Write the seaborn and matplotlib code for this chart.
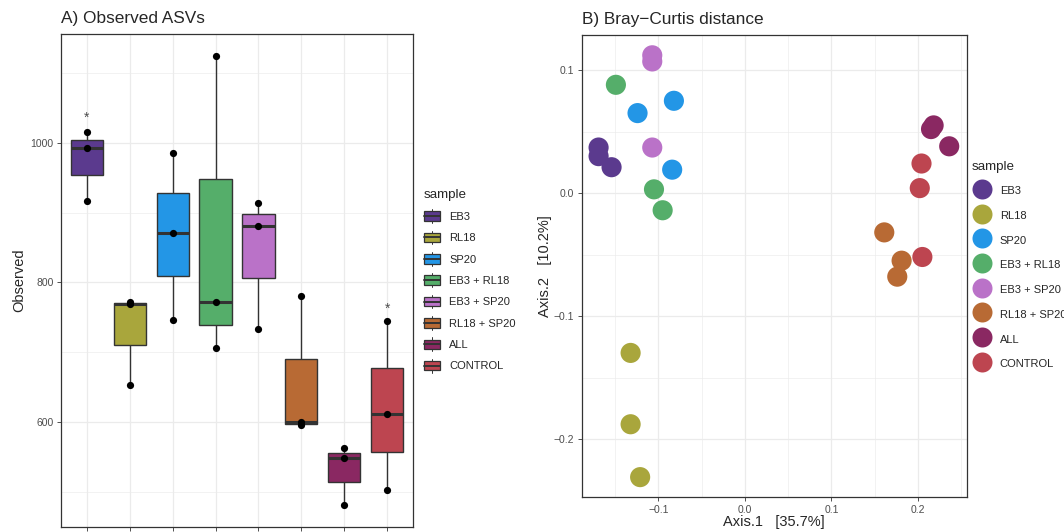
import numpy as np
import pandas as pd
import matplotlib
matplotlib.use('Agg')
import matplotlib.pyplot as plt
from matplotlib.lines import Line2D
from matplotlib.patches import Rectangle, Patch
from matplotlib.legend_handler import HandlerBase
import seaborn as sns

samples = ['EB3', 'RL18', 'SP20', 'EB3 + RL18', 'EB3 + SP20', 'RL18 + SP20', 'ALL', 'CONTROL']
colors = ['#5B3A8E', '#A9A63C', '#2396E6', '#55AE6A', '#BA72C8', '#B86A34', '#8A2862', '#BD4550']

# observed ASVs, three replicates per sample
observed = [
    [917, 992, 1016],
    [653, 769, 772],
    [746, 871, 985],
    [706, 772, 1124],
    [733, 881, 914],
    [595, 600, 780],
    [481, 548, 562],
    [503, 611, 745],
]
# samples marked with an asterisk and the height of the mark
star_samples = ['EB3', 'CONTROL']
star_heights = [1036, 762]

# Bray-Curtis PCoA coordinates
pc_sample = ['EB3'] * 3 + ['RL18'] * 3 + ['SP20'] * 3 + ['EB3 + RL18'] * 3 + \
            ['EB3 + SP20'] * 3 + ['RL18 + SP20'] * 3 + ['ALL'] * 3 + ['CONTROL'] * 3
pc_axis1 = [-0.169, -0.169, -0.154,
            -0.132, -0.132, -0.121,
            -0.124, -0.082, -0.084,
            -0.149, -0.105, -0.095,
            -0.107, -0.107, -0.107,
            0.161, 0.181, 0.176,
            0.215, 0.218, 0.236,
            0.204, 0.202, 0.205]
pc_axis2 = [0.037, 0.030, 0.021,
            -0.130, -0.188, -0.231,
            0.065, 0.075, 0.019,
            0.088, 0.003, -0.014,
            0.112, 0.107, 0.037,
            -0.032, -0.055, -0.068,
            0.052, 0.055, 0.038,
            0.024, 0.004, -0.052]

sns.set_style('white')
plt.rcParams['font.family'] = ['Liberation Sans', 'DejaVu Sans']

df_obs = pd.DataFrame({'sample': np.repeat(samples, 3),
                       'Observed': np.concatenate(observed)})
df_pc = pd.DataFrame({'sample': pc_sample, 'Axis.1': pc_axis1, 'Axis.2': pc_axis2})

fig = plt.figure(figsize=(10.64, 5.32), dpi=100)
ax1 = fig.add_axes([61 / 1064, 5 / 532, 352 / 1064, 493 / 532])
ax2 = fig.add_axes([581.7 / 1064, 34.7 / 532, 385 / 1064, 462.3 / 532])

grid_c = '#EBEBEB'
edge_c = '#333333'
tick_c = '#4D4D4D'


def style_axes(ax):
    for s in ax.spines.values():
        s.set_color(edge_c)
        s.set_linewidth(0.9)
    ax.tick_params(which='major', length=2.9, width=0.6, color=edge_c,
                   labelsize=7.5, labelcolor=tick_c, pad=2.5, direction='out',
                   bottom=True, left=True)
    ax.tick_params(which='minor', length=0)
    ax.grid(True, which='major', color=grid_c, linewidth=0.9, zorder=0)
    ax.grid(True, which='minor', color=grid_c, linewidth=0.45, zorder=0)
    ax.set_axisbelow(True)


# ---- A) observed ASVs ----
sns.boxplot(data=df_obs, x='sample', y='Observed', hue='sample', order=samples,
            hue_order=samples, palette=colors, saturation=1, width=0.75, linewidth=1.0,
            linecolor=edge_c, fliersize=0, showcaps=False, dodge=False,
            medianprops={'linewidth': 2.2, 'color': edge_c}, legend=False, ax=ax1)
sns.stripplot(data=df_obs, x='sample', y='Observed', order=samples, color='black',
              jitter=False, size=5.2, zorder=5, ax=ax1)
for s, h in zip(star_samples, star_heights):
    ax1.text(samples.index(s), h, '*', ha='center', va='center', fontsize=10, color=tick_c)

ax1.set_xlim(-0.6, 7.6)
ax1.set_ylim(449.5, 1156)
ax1.set_yticks([600, 800, 1000])
ax1.set_yticks([500, 700, 900, 1100], minor=True)
ax1.set_xticks(range(len(samples)))
ax1.set_xticklabels([''] * len(samples))
style_axes(ax1)
ax1.set_xlabel('')
ax1.set_ylabel('Observed', fontsize=10.5)
ax1.yaxis.set_label_coords(-0.1, 0.5)
ax1.set_title('A) Observed ASVs', loc='left', fontsize=12.4, pad=8)


class BoxKey(HandlerBase):
    def create_artists(self, legend, orig_handle, xdescent, ydescent, width, height, fontsize, trans):
        x0, y0 = -xdescent, -ydescent
        cx = x0 + width / 2
        arts = [Line2D([cx, cx], [y0 - 0.05 * height, y0 + 1.05 * height], color=edge_c, lw=0.7),
                Rectangle((x0, y0 + 0.12 * height), width, 0.76 * height,
                          facecolor=orig_handle.get_facecolor(), edgecolor=edge_c, lw=0.9),
                Line2D([x0, x0 + width], [y0 + height / 2] * 2, color=edge_c, lw=1.4)]
        for a in arts:
            a.set_transform(trans)
        return arts


box_handles = [Patch(facecolor=c) for c in colors]
leg1 = fig.legend(box_handles, samples, handler_map={Patch: BoxKey()}, title='sample',
                  loc='upper left', bbox_to_anchor=(423.5 / 1064, 1 - 189 / 532),
                  frameon=False, fontsize=8, title_fontsize=9.6, borderpad=0,
                  handlelength=1.5, handleheight=1.35, labelspacing=0.8,
                  handletextpad=0.8, borderaxespad=0, alignment='left')

# ---- B) Bray-Curtis PCoA ----
sns.scatterplot(data=df_pc, x='Axis.1', y='Axis.2', hue='sample', hue_order=samples,
                palette=colors, s=210, edgecolor='none', linewidth=0, legend=False,
                zorder=3, ax=ax2)
ax2.set_xlim(-0.1885, 0.2562)
ax2.set_ylim(-0.2474, 0.1285)
ax2.set_xticks([-0.1, 0.0, 0.1, 0.2])
ax2.set_xticks([-0.15, -0.05, 0.05, 0.15, 0.25], minor=True)
ax2.set_yticks([-0.2, -0.1, 0.0, 0.1])
ax2.set_yticks([-0.15, -0.05, 0.05], minor=True)
ax2.set_xticklabels(['\u22120.1', '0.0', '0.1', '0.2'])
ax2.set_yticklabels(['\u22120.2', '\u22120.1', '0.0', '0.1'])
style_axes(ax2)
ax2.set_xlabel('Axis.1   [35.7%]', fontsize=10.5)
ax2.set_ylabel('Axis.2   [10.2%]', fontsize=10.5)
ax2.xaxis.set_label_coords(0.5, -0.038)
ax2.yaxis.set_label_coords(-0.077, 0.5)
ax2.set_title('B) Bray\u2212Curtis distance', loc='left', fontsize=12.4, pad=8)

dot_handles = [Line2D([], [], marker='o', linestyle='', markersize=14.4,
                      markerfacecolor=c, markeredgecolor='none') for c in colors]
leg2 = fig.legend(dot_handles, samples, title='sample', loc='upper left',
                  bbox_to_anchor=(972 / 1064, 1 - 161 / 532), frameon=False,
                  fontsize=8, title_fontsize=9.6, borderpad=0, handlelength=1.8,
                  handleheight=1.6, labelspacing=0.94, handletextpad=0.7,
                  borderaxespad=0, alignment='left')

fig.savefig('out.png', dpi=100)
